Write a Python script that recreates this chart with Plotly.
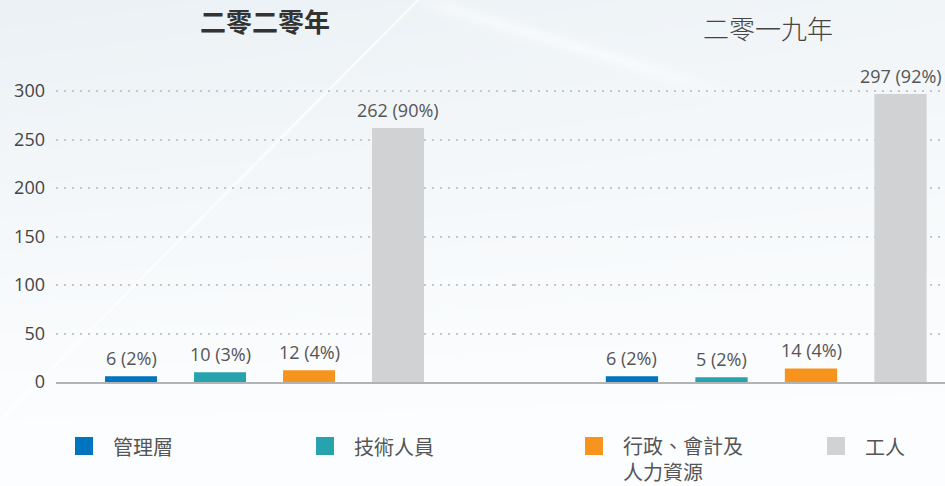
import base64
import struct
import zlib

import numpy as np
import plotly.graph_objects as go
from plotly.subplots import make_subplots

categories = ["管理層", "技術人員", "行政、會計及人力資源", "工人"]
legend_labels = ["管理層", "技術人員", "行政、會計及<br>人力資源", "工人"]
colors = ["#0075bf", "#26a3ad", "#f7941d", "#d1d2d4"]

years = ["二零二零年", "二零一九年"]
counts_2020 = [6, 10, 12, 262]
pct_2020 = [2, 3, 4, 90]
counts_2019 = [6, 5, 14, 297]
pct_2019 = [2, 2, 4, 92]

W, H = 945, 486
L, T, B = 56, 62, 104
PW, PH = W - L, H - T - B
NUM_FONT = "Open Sans"
CJK_FONT = "Noto Sans CJK TC"


def px_x(p):
    return (p - L) / PW


def px_y(p):
    return (H - B - p) / PH


def png_uri(arr):
    h, w, _ = arr.shape
    raw = b"".join(b"\x00" + arr[i].tobytes() for i in range(h))

    def chunk(tag, data):
        c = struct.pack(">I", len(data)) + tag + data
        return c + struct.pack(">I", zlib.crc32(tag + data) & 0xFFFFFFFF)

    png = (
        b"\x89PNG\r\n\x1a\n"
        + chunk(b"IHDR", struct.pack(">IIBBBBB", w, h, 8, 2, 0, 0, 0))
        + chunk(b"IDAT", zlib.compress(raw, 9))
        + chunk(b"IEND", b"")
    )
    return "data:image/png;base64," + base64.b64encode(png).decode()


def background():
    yy, xx = np.mgrid[0:H, 0:W].astype(float)
    t = (1 - yy / H) ** 1.3 * (1 - 0.35 * xx / W)
    dark = np.array([235, 241, 245], float)
    light = np.array([253, 254, 255], float)
    img = light + (dark - light) * t[..., None]
    # faint diagonal streaks
    d1 = np.abs(xx + 0.993 * yy - 417) / np.sqrt(2)
    a1 = np.clip(1.6 - d1, 0, 1) * 0.7 * (yy < 440)
    d2 = np.abs(0.3 * xx - yy - 126) / np.sqrt(1.09)
    fade = np.clip((xx - 410) / 40, 0, 1) * np.clip((760 - xx) / 120, 0, 1)
    a2 = np.exp(-((d2 / 8) ** 2)) * 0.45 * fade
    a = np.clip(a1 + a2, 0, 1)[..., None]
    img = img * (1 - a) + 255 * a
    return np.clip(img, 0, 255).astype(np.uint8)


fig = make_subplots(rows=1, cols=2, shared_yaxes=True, horizontal_spacing=0)

for col, (counts, pcts) in enumerate([(counts_2020, pct_2020), (counts_2019, pct_2019)], 1):
    fig.add_trace(
        go.Bar(
            x=categories,
            y=counts,
            marker=dict(color=colors, line_width=0),
            width=0.584,
            hoverinfo="skip",
            showlegend=False,
        ),
        row=1,
        col=col,
    )
    xref = "x" if col == 1 else "x2"
    for cat, v, p in zip(categories, counts, pcts):
        fig.add_annotation(
            x=cat, y=v, xref=xref, yref="y",
            text=f"{v} ({p}%)",
            xanchor="center", yanchor="bottom", yshift=4, showarrow=False,
            font=dict(family=NUM_FONT, size=18, color="#555555"),
        )

split = px_x(514)
axis_common = dict(
    showticklabels=False,
    showgrid=False,
    zeroline=False,
    showline=True,
    linecolor="#b2b3b6",
    linewidth=2,
    fixedrange=True,
)
fig.update_layout(
    xaxis=dict(domain=[0, split], range=[-0.843, 4.303], **axis_common),
    xaxis2=dict(domain=[split, 1], range=[-1.318, 3.497], **axis_common),
)
fig.update_yaxes(
    range=[0, 330],
    tickvals=[0, 50, 100, 150, 200, 250, 300],
    showgrid=True,
    gridcolor="#c3c8cc",
    gridwidth=1.5,
    griddash="1.5px,6.5px",
    zeroline=False,
    ticks="",
    ticklabelstandoff=10,
    tickfont=dict(family=NUM_FONT, size=18, color="#444444"),
)

# year titles
fig.add_annotation(
    x=px_x(265), y=px_y(21), xref="paper", yref="paper",
    xanchor="center", yanchor="middle",
    text=f"<b>{years[0]}</b>", showarrow=False,
    font=dict(family=CJK_FONT, size=26, color="#333333"),
)
fig.add_annotation(
    x=px_x(768), y=px_y(27), xref="paper", yref="paper",
    xanchor="center", yanchor="middle",
    text=years[1], showarrow=False,
    font=dict(family=CJK_FONT, size=26, color="#444444", weight=300),
)

# legend
legend_x = [75, 316, 585, 827]
for lx, lab, c in zip(legend_x, legend_labels, colors):
    fig.add_shape(
        type="rect", xref="paper", yref="paper",
        x0=px_x(lx), x1=px_x(lx + 18), y0=px_y(455), y1=px_y(437),
        fillcolor=c, line_width=0,
    )
    nlines = lab.count("<br>") + 1
    fig.add_annotation(
        x=px_x(lx + 36), y=px_y(446 + (nlines - 1) * 12.5), xref="paper", yref="paper",
        xanchor="left", yanchor="middle", align="left",
        text=lab, showarrow=False,
        font=dict(family=CJK_FONT, size=20, color="#555555"),
    )

fig.add_layout_image(
    source=png_uri(background()),
    xref="paper", yref="paper",
    x=px_x(0), y=px_y(0), sizex=W / PW, sizey=H / PH,
    xanchor="left", yanchor="top", sizing="stretch", layer="below",
)

fig.update_layout(
    width=W,
    height=H,
    margin=dict(l=L, r=0, t=T, b=B),
    paper_bgcolor="white",
    plot_bgcolor="rgba(0,0,0,0)",
    showlegend=False,
)

fig.write_html(
    "out.html",
    config={"displayModeBar": False},
    post_script="document.body.style.margin='0';document.body.style.padding='0';",
)
